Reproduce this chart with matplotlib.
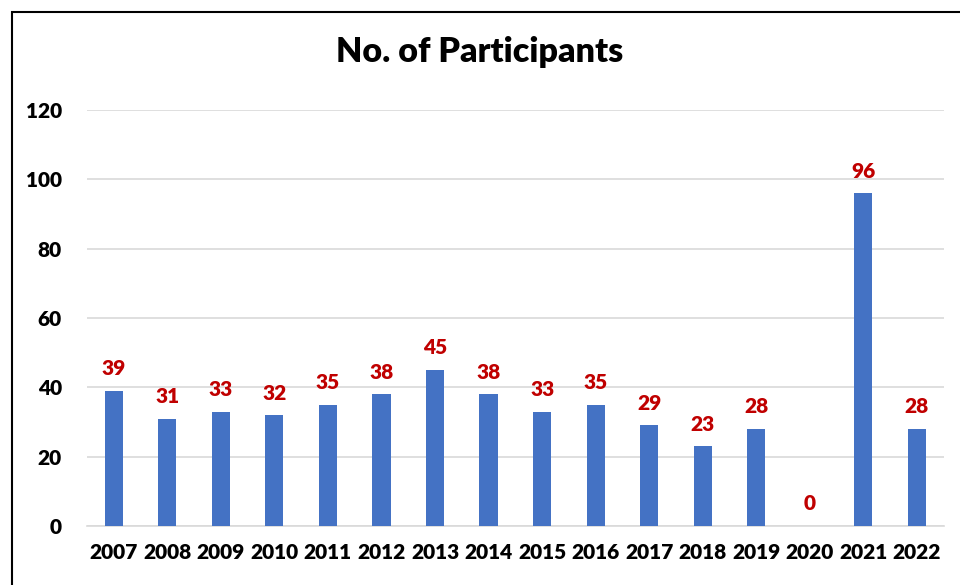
import matplotlib.pyplot as plt
from matplotlib.patches import Rectangle

YEARS = ["2007", "2008", "2009", "2010", "2011", "2012", "2013", "2014",
         "2015", "2016", "2017", "2018", "2019", "2020", "2021", "2022"]
PARTICIPANTS = [39, 31, 33, 32, 35, 38, 45, 38, 33, 35, 29, 23, 28, 0, 96, 28]

BAR_COLOR = "#4472C4"
LABEL_COLOR = "#C00000"
GRID_COLOR = "#D9D9D9"

plt.rcParams["font.family"] = ["Lato", "DejaVu Sans"]

fig = plt.figure(figsize=(9.6, 5.85), dpi=100)
ax = fig.add_axes([0.0906, 0.1009, 0.8924, 0.7111])

x = range(len(YEARS))
bars = ax.bar(x, PARTICIPANTS, width=0.34, color=BAR_COLOR, zorder=3)

for rect, value in zip(bars, PARTICIPANTS):
    ax.annotate(
        str(value),
        (rect.get_x() + rect.get_width() / 2, rect.get_height()),
        xytext=(0, 9),
        textcoords="offset points",
        ha="center",
        va="bottom",
        color=LABEL_COLOR,
        fontsize=15,
        fontweight="heavy",
    )

ax.set_xlim(-0.5, len(YEARS) - 0.5)
ax.set_ylim(0, 120)
ax.set_yticks(range(0, 121, 20))
ax.set_xticks(list(x), YEARS)
ax.grid(axis="y", color=GRID_COLOR, linewidth=1.2, zorder=0)
for side in ("top", "right", "left"):
    ax.spines[side].set_visible(False)
ax.spines["bottom"].set_color(GRID_COLOR)
ax.spines["bottom"].set_linewidth(1.2)
ax.tick_params(axis="y", length=0, labelsize=15, pad=18)
ax.tick_params(axis="x", length=0, labelsize=15, pad=12)
for label in ax.get_xticklabels() + ax.get_yticklabels():
    label.set_fontweight("heavy")

fig.text(0.5, 0.911, "No. of Participants", ha="center", va="center",
         fontsize=24.5, fontweight="heavy")

# chart frame (only the left and top edges fall inside the picture)
fig.patches.append(Rectangle((12 / 960, -0.1), 1.2, 1.1 - 12 / 585,
                             transform=fig.transFigure, fill=False,
                             edgecolor="black", linewidth=1.5))

fig.savefig("out.png", dpi=100)
